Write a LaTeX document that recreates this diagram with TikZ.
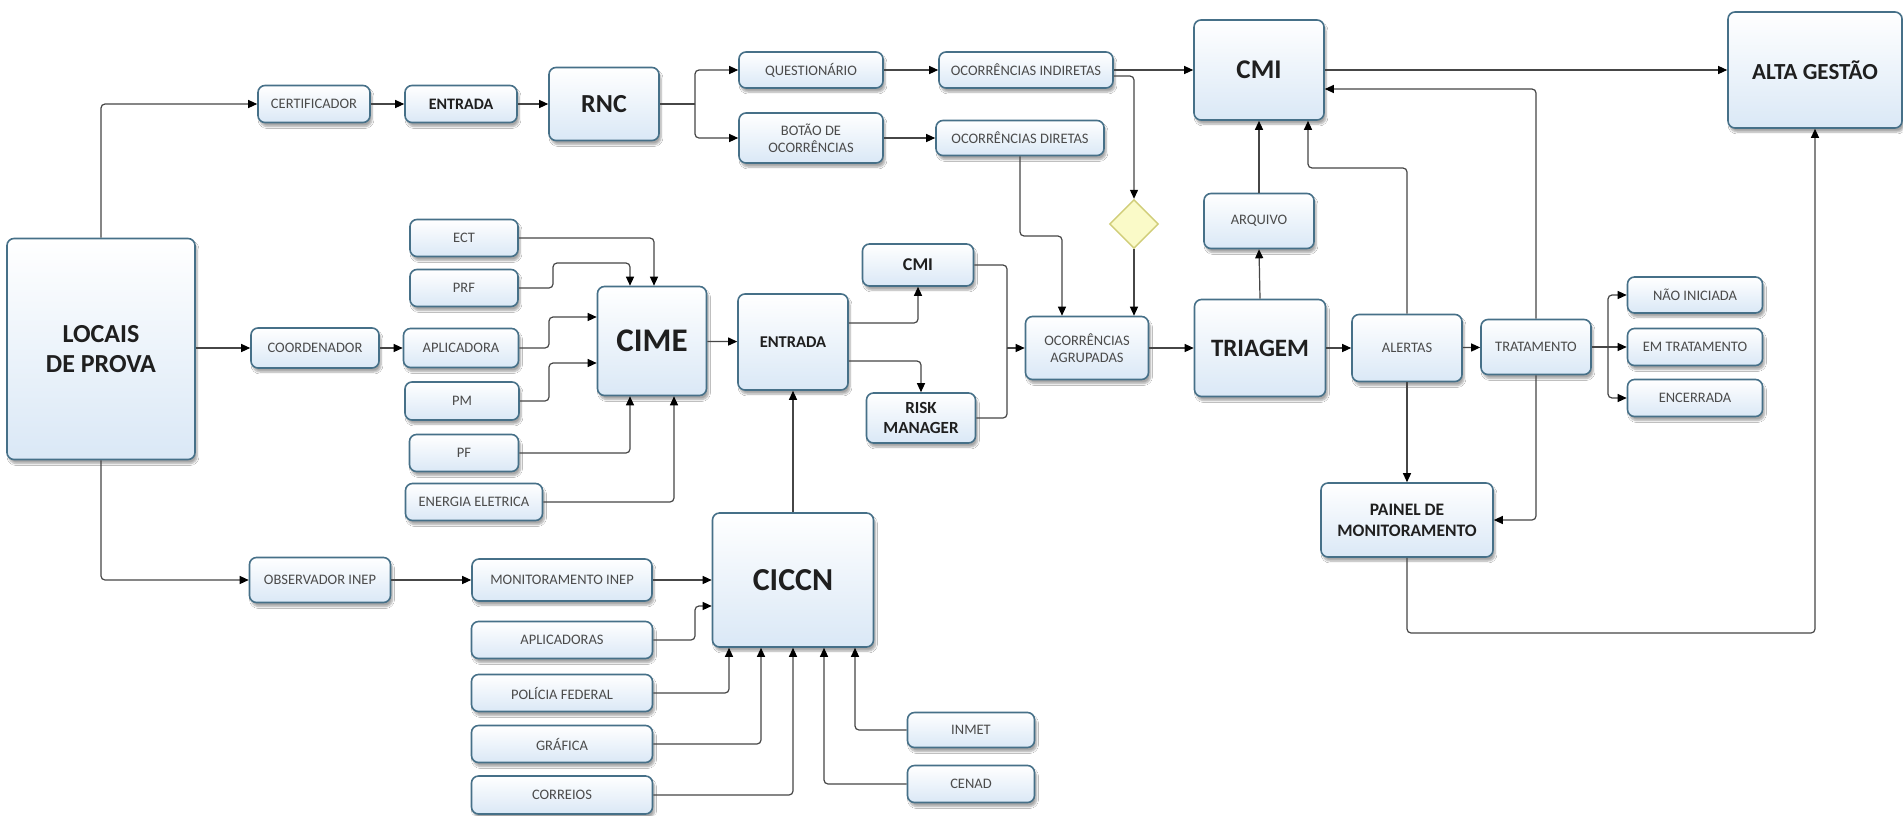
\documentclass[tikz,border=0pt]{standalone}
\usepackage{fontspec}
\setmainfont{Carlito}
\usetikzlibrary{shapes.geometric,arrows.meta,shadows.blur,calc}
\definecolor{bord}{RGB}{70,112,136}
\definecolor{fillb}{RGB}{218,232,246}
\definecolor{linec}{RGB}{70,70,70}
\definecolor{txt}{RGB}{75,75,75}
\definecolor{dfill}{RGB}{250,250,200}
\definecolor{dbord}{RGB}{208,205,120}
\tikzset{
  box/.style={rectangle, rounded corners=7pt, draw=bord, line width=1.6pt,
    top color=white, bottom color=fillb,
    blur shadow={shadow xshift=2pt, shadow yshift=-4pt, shadow blur steps=6, shadow opacity=35},
    inner sep=2pt, align=center, text=txt, font=\fontsize{14.5}{17}\selectfont},
  sz/.style n args={2}{minimum width=#1pt, minimum height=#2pt},
  bf/.style n args={2}{text=black!88, font={\bfseries\fontsize{#1}{#2}\selectfont}},
  arr/.style={draw=linec, line width=1.2pt, rounded corners=4pt, -{Triangle[length=9pt,width=8pt,color=black]}},
  ln/.style={draw=linec, line width=1.2pt, rounded corners=4pt},
  dia/.style={diamond, draw=dbord, fill=dfill, line width=1.4pt, minimum width=49pt, minimum height=49pt, inner sep=0pt}
}
\begin{document}
\begin{tikzpicture}[x=1pt,y=-1pt]
\useasboundingbox[fill=white] (0,0) rectangle (1903,815);
% ---- nodes ----
\node[box, sz={188}{221}, bf={26}{30}] (locais) at (101,349) {LOCAIS\\DE PROVA};
\node[box, sz={112}{37}] (cert) at (314,104) {CERTIFICADOR};
\node[box, sz={112}{37}, bf={16}{18}] (entr1) at (461,104) {ENTRADA};
\node[box, sz={110}{73}, bf={26}{30}] (rnc) at (604,104) {RNC};
\node[box, sz={144}{36}] (quest) at (811,70) {QUESTIONÁRIO};
\node[box, sz={144}{50}] (botao) at (811,138) {BOTÃO DE\\OCORRÊNCIAS};
\node[box, sz={174}{36}] (oi) at (1026,70) {OCORRÊNCIAS INDIRETAS};
\node[box, sz={168}{35}] (od) at (1020,138) {OCORRÊNCIAS DIRETAS};
\node[box, sz={130}{100}, bf={27}{30}] (cmi) at (1259,70) {CMI};
\node[box, sz={174}{116}, bf={23}{26}] (alta) at (1815,70) {ALTA GESTÃO};
\node[dia] (dm) at (1134,224) {};
\node[box, sz={110}{55}] (arq) at (1259,221) {ARQUIVO};
\node[box, sz={108}{37}] (ect) at (464,238) {ECT};
\node[box, sz={108}{37}] (prf) at (464,288) {PRF};
\node[box, sz={128}{40}] (coord) at (315,348) {COORDENADOR};
\node[box, sz={115}{39}] (aplic) at (461,348) {APLICADORA};
\node[box, sz={114}{38}] (pm) at (462,401) {PM};
\node[box, sz={109}{37}] (pf) at (464,453) {PF};
\node[box, sz={137}{37}] (energ) at (474,502) {ENERGIA ELETRICA};
\node[box, sz={109}{109}, bf={33}{36}] (cime) at (652,341) {CIME};
\node[box, sz={110}{96}, bf={16.5}{19}] (entr2) at (793,342) {ENTRADA};
\node[box, sz={111}{42}, bf={18}{20}] (cmi2) at (918,265) {CMI};
\node[box, sz={109}{50}, bf={17}{20}] (risk) at (921,418) {RISK\\MANAGER};
\node[box, sz={123}{63}] (oa) at (1087,348) {OCORRÊNCIAS\\AGRUPADAS};
\node[box, sz={131}{97}, bf={25}{28}] (tri) at (1260,348) {TRIAGEM};
\node[box, sz={110}{67}] (alert) at (1407,348) {ALERTAS};
\node[box, sz={110}{55}] (trat) at (1536,347) {TRATAMENTO};
\node[box, sz={135}{36}] (nao) at (1695,295) {NÃO INICIADA};
\node[box, sz={135}{37}] (emt) at (1695,347) {EM TRATAMENTO};
\node[box, sz={135}{37}] (enc) at (1695,398) {ENCERRADA};
\node[box, sz={172}{74}, bf={17.5}{21}] (painel) at (1407,520) {PAINEL DE\\MONITORAMENTO};
\node[box, sz={141}{45}] (obs) at (320,580) {OBSERVADOR INEP};
\node[box, sz={180}{42}] (monit) at (562,580) {MONITORAMENTO INEP};
\node[box, sz={181}{37}] (aplics) at (562,640) {APLICADORAS};
\node[box, sz={181}{37}] (polf) at (562,693) {POLÍCIA FEDERAL};
\node[box, sz={181}{37}] (graf) at (562,744) {GRÁFICA};
\node[box, sz={181}{38}] (corr) at (562,795) {CORREIOS};
\node[box, sz={161}{134}, bf={32}{35}] (ciccn) at (793,580) {CICCN};
\node[box, sz={127}{35}] (inmet) at (971,730) {INMET};
\node[box, sz={127}{37}] (cenad) at (971,784) {CENAD};
% ---- helper coordinates ----
\coordinate (sp1) at (695,104);
\coordinate (odk) at (1062,236);
\coordinate (ak) at (1308,168);
\coordinate (pk) at (1815,633);
\coordinate (tk) at (1608,347);
\coordinate (prk) at (553,263);
\coordinate (apk) at (549,317);
\coordinate (pmk) at (549,363);
\coordinate (ck) at (1007,348);
\coordinate (ack) at (695,606);
% ---- connectors ----
\draw[arr] (locais.north) |- (cert.west);
\draw[arr] (cert) -- (entr1);
\draw[arr] (entr1) -- (rnc);
\draw[ln] (rnc.east) -- (sp1);
\draw[arr] (sp1) |- (quest.west);
\draw[arr] (sp1) |- (botao.west);
\draw[arr] (quest) -- (oi);
\draw[arr] (botao) -- (od);
\draw[arr] (oi.east) -- (cmi.west);
\draw[arr] ([yshift=-6pt]oi.east) -| (dm.north);
\draw[arr] (od.south) |- (odk) -- (odk |- oa.north);
\draw[arr] (dm.south) -- (dm.south |- oa.north);
\draw[arr] (cmi.east) -- (alta.west);
\draw[arr] (trat.north) |- ([yshift=-19pt]cmi.east);
\draw[arr] (alert.north) |- (ak) -- (ak |- cmi.south);
\draw[arr] (arq.north) -- (cmi.south -| arq.north);
\draw[arr] (tri.north) -- (arq.south);
\draw[arr] (alert.south) -- (painel.north);
\draw[arr] (trat.south) |- (painel.east);
\draw[arr] (painel.south) |- (pk) -- (alta.south);
\draw[arr] (trat.east) -- (emt.west);
\draw[arr] (tk) |- (nao.west);
\draw[arr] (tk) |- (enc.west);
\draw[arr] (tri) -- (alert);
\draw[arr] (alert) -- (trat);
\draw[arr] (oa) -- (tri);
\draw[arr] (locais.east |- coord.west) -- (coord.west);
\draw[arr] (coord) -- (aplic);
\draw[arr] (ect.east) -| ([xshift=2pt]cime.north);
\draw[arr] (prf.east) -| (prk) -| ([xshift=-22pt]cime.north);
\draw[arr] (aplic.east) -| (apk) -- (apk -| cime.west);
\draw[arr] (pm.east) -| (pmk) -- (pmk -| cime.west);
\draw[arr] (pf.east) -| ([xshift=-22pt]cime.south);
\draw[arr] (energ.east) -| ([xshift=22pt]cime.south);
\draw[arr] (cime) -- (entr2);
\draw[arr] ([yshift=19pt]entr2.east) -| (cmi2.south);
\draw[arr] ([yshift=-19pt]entr2.east) -| (risk.north);
\draw[ln] (cmi2.east) -| (ck);
\draw[ln] (risk.east) -| (ck);
\draw[arr] (ck) -- (oa.west);
\draw[arr] (ciccn.north) -- (entr2.south);
\draw[arr] (locais.south) |- (obs.west);
\draw[arr] (obs) -- (monit);
\draw[arr] (monit.east) -- (monit.east -| ciccn.west);
\draw[arr] (aplics.east) -| (ack) -- (ack -| ciccn.west);
\draw[arr] (polf.east) -| ([xshift=-64pt]ciccn.south);
\draw[arr] (graf.east) -| ([xshift=-32pt]ciccn.south);
\draw[arr] (corr.east) -| (ciccn.south);
\draw[arr] (cenad.west) -| ([xshift=31pt]ciccn.south);
\draw[arr] (inmet.west) -| ([xshift=62pt]ciccn.south);
\end{tikzpicture}
\end{document}
